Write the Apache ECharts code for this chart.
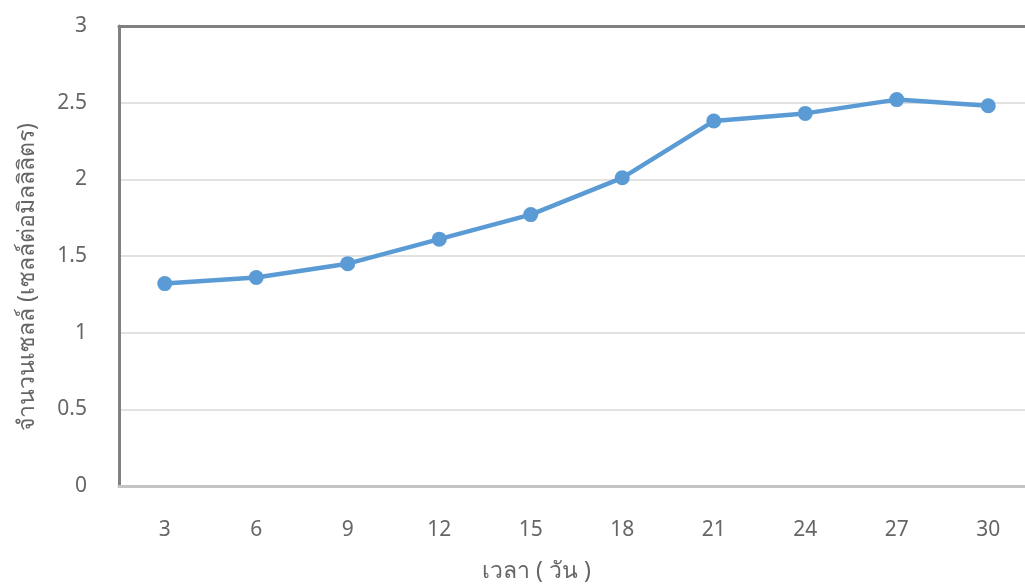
<!DOCTYPE html>
<html>
<head>
<meta charset="utf-8">
<script src="https://cdn.jsdelivr.net/npm/echarts@6/dist/echarts.min.js"></script>
<style>html,body{margin:0;padding:0;background:#fff}#c{width:1025px;height:584px}</style>
</head>
<body>
<div id="c"></div>
<script>
const categories = ['3','6','9','12','15','18','21','24','27','30'];
const cellCounts = [1.32, 1.36, 1.45, 1.61, 1.77, 2.01, 2.38, 2.43, 2.52, 2.48];
const xName = 'เวลา ( วัน )';
const yName = 'จำนวนเซลล์ (เซลล์ต่อมิลลิลิตร)';

const chart = echarts.init(document.getElementById('c'), null, {renderer: 'canvas'});
const font = '"Noto Sans", "Open Sans", sans-serif';
chart.setOption({
  animation: false,
  grid: {left: 119, right: -9, top: 26, bottom: 98, outerBoundsMode: 'none', containLabel: false},
  xAxis: [{
    type: 'category', data: categories, boundaryGap: true,
    axisLine: {show: true, lineStyle: {color: '#c4c4c4', width: 3}},
    axisTick: {show: false},
    axisLabel: {color: '#666', fontSize: 21, margin: 34, fontFamily: font},
    name: xName, nameLocation: 'middle', nameGap: 74,
    nameTextStyle: {color: '#666', fontSize: 23, fontFamily: font, padding: [0, 80, 0, 0]}
  }, {
    type: 'category', data: categories, position: 'top',
    axisLine: {show: true, lineStyle: {color: '#808080', width: 3}},
    axisTick: {show: false}, axisLabel: {show: false}
  }],
  yAxis: {
    type: 'value', min: 0, max: 3, interval: 0.5,
    axisLine: {show: true, lineStyle: {color: '#808080', width: 3}},
    axisTick: {show: false},
    axisLabel: {color: '#666', fontSize: 21, margin: 32, fontFamily: font},
    splitLine: {lineStyle: {color: '#d9d9d9', width: 1.5}},
    name: yName, nameLocation: 'middle', nameGap: 80, nameRotate: 90,
    nameTextStyle: {color: '#666', fontSize: 23, fontFamily: font, padding: [0, 42, 0, 0]}
  },
  series: [{
    type: 'line', data: cellCounts,
    lineStyle: {color: '#5b9bd5', width: 4.5},
    itemStyle: {color: '#5b9bd5'},
    symbol: 'circle', symbolSize: 15
  }]
});
</script>
</body>
</html>
